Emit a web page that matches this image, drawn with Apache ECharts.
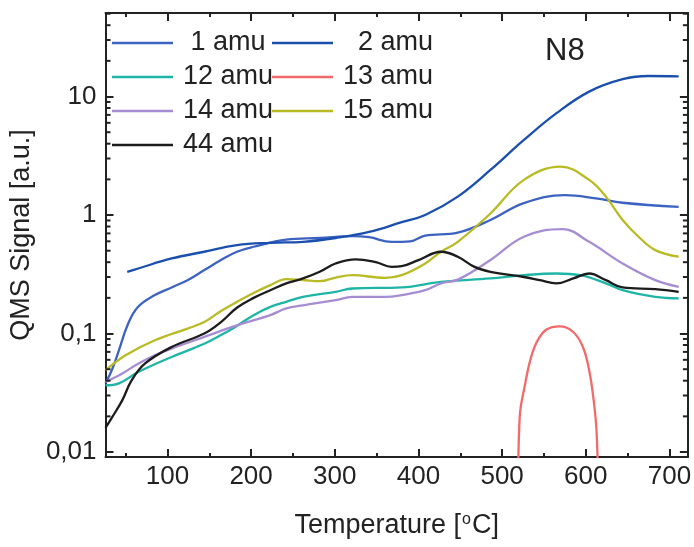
<!DOCTYPE html>
<html>
<head>
<meta charset="utf-8">
<script src="https://cdn.jsdelivr.net/npm/echarts@6/dist/echarts.min.js"></script>
<style>
html,body{margin:0;padding:0;background:#fff;}
#chart{width:694px;height:547px;}
</style>
</head>
<body>
<div id="chart"></div>
<script>
// ---- data: [temperature °C, signal a.u.] ----
const amu1 = [[26,0.038],[34,0.05],[42,0.072],[53,0.121],[65,0.168],[85,0.211],[105,0.245],[124,0.282],[144,0.343],[164,0.417],[183,0.49],[203,0.54],[242,0.62],[282,0.64],[321,0.665],[341,0.65],[368,0.594],[390,0.6],[408,0.67],[447,0.71],[486,0.908],[526,1.26],[575,1.47],[612,1.38],[644,1.27],[711,1.17]];
const amu2 = [[52,0.332],[65,0.354],[105,0.43],[144,0.49],[183,0.557],[223,0.583],[262,0.594],[301,0.64],[341,0.72],[380,0.87],[408,1.0],[447,1.43],[486,2.4],[526,4.3],[565,7.24],[604,11],[644,14.0],[675,14.9],[711,14.8]];
const amu12 = [[26,0.0366],[42,0.038],[65,0.0473],[105,0.0634],[144,0.082],[164,0.097],[183,0.116],[203,0.143],[223,0.168],[242,0.185],[262,0.204],[301,0.225],[321,0.24],[380,0.245],[427,0.273],[486,0.292],[526,0.311],[565,0.321],[593,0.311],[624,0.265],[644,0.232],[683,0.204],[711,0.198]];
const amu13 = [[519,0.004],[521,0.0197],[527.6,0.0378],[533.6,0.0594],[541.5,0.085],[553,0.108],[569,0.115],[585,0.103],[596.5,0.077],[604,0.049],[609.5,0.027],[613,0.0143],[615,0.004]];
const amu14 = [[26,0.039],[46,0.046],[65,0.0557],[85,0.0656],[105,0.0747],[144,0.0936],[183,0.117],[223,0.143],[242,0.163],[262,0.173],[301,0.191],[321,0.204],[360,0.204],[380,0.211],[408,0.232],[427,0.265],[447,0.285],[486,0.417],[526,0.656],[572,0.76],[604,0.594],[644,0.39],[683,0.282],[711,0.248]];
const amu15 = [[26,0.049],[50,0.0656],[85,0.0877],[124,0.11],[144,0.125],[164,0.155],[183,0.185],[203,0.22],[223,0.256],[242,0.288],[262,0.283],[282,0.277],[301,0.297],[321,0.311],[360,0.295],[380,0.311],[408,0.39],[427,0.49],[447,0.594],[486,1.03],[526,1.98],[570,2.56],[604,1.98],[624,1.43],[644,0.908],[663,0.656],[683,0.506],[711,0.445]];
const amu44 = [[26,0.016],[34,0.0197],[46,0.0273],[57,0.04],[73,0.0557],[105,0.077],[144,0.1],[164,0.125],[183,0.165],[203,0.2],[223,0.232],[242,0.265],[262,0.292],[282,0.332],[301,0.39],[325,0.423],[349,0.40],[368,0.365],[380,0.37],[400,0.417],[427,0.49],[447,0.445],[467,0.365],[486,0.332],[526,0.30],[545,0.282],[565,0.265],[585,0.292],[604,0.321],[624,0.282],[644,0.245],[683,0.237],[711,0.225]];

const seriesNames = ['1 amu','2 amu','12 amu','13 amu','14 amu','15 amu','44 amu'];
const seriesColors = ['#3d63c2','#1b4fae','#1fb5a6','#f26a6a','#a68dd3','#b8bb24','#1c1c1c'];
const seriesData = [amu1, amu2, amu12, amu13, amu14, amu15, amu44];
const legendCol1 = ['1 amu','12 amu','14 amu','44 amu'];
const legendCol2 = ['2 amu','13 amu','15 amu'];
const legendLabels = {'1 amu':' 1 amu','2 amu':'  2 amu'};

const xMin = 26, xMax = 722;
const yMin = 0.00908, yMax = 50.7;
const decades = [0.01, 0.1, 1, 10];
const minorFactors = [2,3,4,5,6,7,8,9];
const minorTicks = [];
decades.forEach(d => minorFactors.forEach(m => { const v = +(d*m).toPrecision(3); if (v < yMax) minorTicks.push(v); }));

const FONT = "'Liberation Sans', Arial, sans-serif";
const axisColor = '#222';

function decLabel(v){
  const s = +v.toPrecision(6);
  if (decades.indexOf(s) < 0) return '';
  return String(s).replace('.', ',');
}

const series = seriesNames.map((n,i) => ({
  name: n, type: 'line', data: seriesData[i], showSymbol: false, symbol: 'none',
  smooth: 0.4, clip: true,
  lineStyle: {color: seriesColors[i], width: 2.3},
  itemStyle: {color: seriesColors[i]},
  z: 3
}));
series.push({
  type: 'custom', silent: true, clip: false, z: 4,
  data: minorTicks.map(v => [xMin, v]),
  renderItem: function(params, api){
    const v = api.value(1);
    const pL = api.coord([xMin, v]);
    const pR = api.coord([xMax, v]);
    const st = {stroke: axisColor, lineWidth: 2};
    return {type:'group', children:[
      {type:'line', shape:{x1:pL[0], y1:pL[1], x2:pL[0]+5, y2:pL[1]}, style: st},
      {type:'line', shape:{x1:pR[0], y1:pR[1], x2:pR[0]-5, y2:pR[1]}, style: st}
    ]};
  }
});

const legendBase = {
  orient: 'vertical', top: 26, padding: 0, itemGap: 0,
  itemWidth: 61, itemHeight: 2.5, icon: 'rect', selectedMode: false,
  textStyle: {fontFamily: FONT, fontSize: 27, color: '#222', lineHeight: 34, padding: [0,0,0,5]},
  formatter: n => legendLabels[n] || n
};

const chart = echarts.init(document.getElementById('chart'), null, {renderer: 'canvas'});
chart.setOption({
  animation: false,
  backgroundColor: '#fff',
  grid: {left: 100, right: 4, top: 13, bottom: 90},
  legend: [
    Object.assign({}, legendBase, {left: 112, data: legendCol1}),
    Object.assign({}, legendBase, {left: 272, data: legendCol2})
  ],
  graphic: [{
    type: 'text', left: 545, top: 36,
    style: {text: 'N8', font: "31px " + FONT, fill: '#222'}
  }],
  xAxis: [{
    type: 'value', min: xMin, max: xMax, splitNumber: 7, position: 'bottom',
    name: 'Temperature [{sup|o}C]', nameLocation: 'middle', nameGap: 55,
    nameTextStyle: {fontFamily: FONT, fontSize: 27, color: '#222',
      rich: {sup: {fontFamily: FONT, fontSize: 16, color: '#222', verticalAlign: 'top', padding: [0,1,12,1]}}},
    axisLine: {lineStyle: {color: axisColor, width: 2}},
    axisTick: {inside: true, length: 8, lineStyle: {color: axisColor, width: 2}},
    minorTick: {show: true, splitNumber: 2, length: 4, lineStyle: {color: axisColor, width: 2}},
    axisLabel: {fontFamily: FONT, fontSize: 26, color: '#222', margin: 7, showMinLabel: false, showMaxLabel: false,
      formatter: v => (v % 100 === 0 ? String(v) : '')},
    splitLine: {show: false}
  },{
    type: 'value', min: xMin, max: xMax, splitNumber: 7, position: 'top',
    axisLine: {lineStyle: {color: axisColor, width: 2}},
    axisTick: {inside: true, length: 8, lineStyle: {color: axisColor, width: 2}},
    minorTick: {show: true, splitNumber: 2, length: 4, lineStyle: {color: axisColor, width: 2}},
    axisLabel: {show: false}, splitLine: {show: false}
  }],
  yAxis: [{
    type: 'log', logBase: 10, min: yMin, max: yMax, position: 'left',
    name: 'QMS Signal [a.u.]', nameLocation: 'middle', nameGap: 62,
    nameTextStyle: {fontFamily: FONT, fontSize: 27, color: '#222'},
    axisLine: {lineStyle: {color: axisColor, width: 2}},
    axisTick: {inside: true, length: 8, lineStyle: {color: axisColor, width: 2}},
    axisLabel: {fontFamily: FONT, fontSize: 26, color: '#222', margin: 9, showMinLabel: false, showMaxLabel: false,
      formatter: decLabel},
    splitLine: {show: false}, minorTick: {show: false}
  },{
    type: 'log', logBase: 10, min: yMin, max: yMax, position: 'right',
    axisLine: {lineStyle: {color: axisColor, width: 2}},
    axisTick: {inside: true, length: 8, lineStyle: {color: axisColor, width: 2}},
    axisLabel: {show: false}, splitLine: {show: false}
  }],
  series: series
});
</script>
</body>
</html>
